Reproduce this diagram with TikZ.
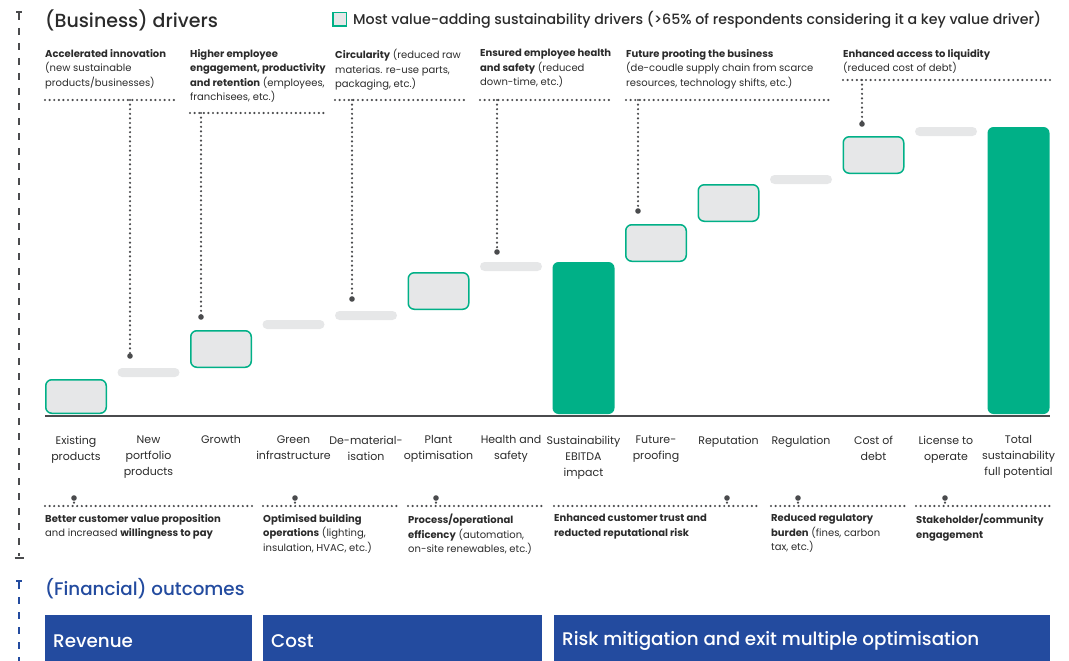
\documentclass[tikz,border=0pt]{standalone}
\usepackage{fontspec}
\setmainfont{Poppins}
\newfontfamily\headfont{Poppins Medium}
\definecolor{kgreen}{HTML}{00B087}
\definecolor{kgray}{HTML}{E6E7E8}
\definecolor{kdark}{HTML}{4A4B4D}
\definecolor{ktext}{HTML}{2B2B2B}
\definecolor{kblue}{HTML}{234B9F}
\begin{document}
\begin{tikzpicture}[x=1pt,y=-1pt,
  valbox/.style={draw=kgreen, line width=1.5pt, fill=kgray, rounded corners=6pt,
    minimum width=60.5pt, minimum height=36.5pt, inner sep=0pt},
  stepbar/.style={fill=kgray, rounded corners=4.5pt, minimum width=62pt,
    minimum height=9pt, inner sep=0pt},
  totalbar/.style={fill=kgreen, rounded corners=6pt, minimum width=62pt, inner sep=0pt},
  dotline/.style={draw=kdark, line width=2.4pt, line cap=round, dash pattern=on 0pt off 4.6pt},
  enddot/.style={fill=kdark},
  axisdash/.style={line width=1.8pt, dash pattern=on 7pt off 8pt},
  toplbl/.style={anchor=north west, align=left, inner sep=0pt, text=ktext,
    font=\fontsize{10}{14.5}\selectfont},
  catlbl/.style={anchor=north, align=center, inner sep=0pt, text=ktext,
    font=\fontsize{11}{16}\selectfont},
  outbox/.style={fill=kblue, anchor=north west, minimum height=51pt, inner sep=0pt},
  outlbl/.style={anchor=west, inner sep=0pt, text=white, font=\headfont\fontsize{18.3}{22}\selectfont},
]
\useasboundingbox (0,0) rectangle (1069,661);
\clip (0,0) rectangle (1069,661);

% ---- left axes ----
\draw[kdark, axisdash] (19,13) -- (19,556);
\draw[kdark, line width=1.5pt] (16,12) -- (22,12);
\draw[kdark, line width=1.5pt] (14.5,558) -- (23.5,558);
\draw[kblue, axisdash] (19,582) -- (19,661);
\draw[kblue, line width=1.5pt] (16,581) -- (22,581);

% ---- headings ----
\node[anchor=west, inner sep=0pt, text=ktext, font=\headfont\fontsize{19}{22}\selectfont] (hdr) at (45,20) {(Business) drivers};
\node[draw=kgreen, line width=1.5pt, fill=kgray, minimum size=13.5pt, inner sep=0pt] (legbox) at (339.5,19.5) {};
\node[anchor=west, inner sep=0pt, text=ktext, font=\headfont\fontsize{14.2}{16}\selectfont] (legtxt) at (353,19.5)
  {Most value-adding sustainability drivers (>65\% of respondents considering it a key value driver)};

% ---- waterfall ----
\node[valbox, minimum height=33.5pt] (s1) at (76,396.5) {};
\node[stepbar] (s2) at (148.5,372.5) {};
\node[valbox] (s3) at (221,349) {};
\node[stepbar] (s4) at (293.5,324.5) {};
\node[stepbar] (s5) at (366,315.5) {};
\node[valbox] (s6) at (438.5,291) {};
\node[stepbar] (s7) at (511,266.5) {};
\node[totalbar, minimum height=152pt] (s8) at (583.5,338) {};
\node[valbox] (s9) at (656,243) {};
\node[valbox] (s10) at (728.5,203) {};
\node[stepbar] (s11) at (801,179.5) {};
\node[valbox] (s12) at (873.5,155) {};
\node[stepbar] (s13) at (946,131.5) {};
\node[totalbar, minimum height=287pt] (s14) at (1018.5,270.5) {};
\draw[kdark, line width=2pt] (45,416) -- (1050,416);

% ---- driver labels (top) ----
\node[toplbl] (d1) at (45,49) {\textbf{Accelerated innovation}\\(new sustainable\\products/businesses)};
\node[toplbl] (d2) at (190,49) {\textbf{Higher employee}\\\textbf{engagement, productivity}\\\textbf{and retention} (employees,\\franchisees, etc.)};
\node[toplbl] (d3) at (335,49) {\textbf{Circularity} (reduced raw\\materias. re-use parts,\\packaging, etc.)};
\node[toplbl] (d4) at (480,49) {\textbf{Ensured employee health}\\\textbf{and safety} (reduced\\down-time, etc.)};
\node[toplbl] (d5) at (626,49) {\textbf{Future prooting the business}\\(de-coudle supply chain from scarce\\resources, technology shifts, etc.)};
\node[toplbl] (d6) at (843,49) {\textbf{Enhanced access to liquidity}\\(reduced cost of debt)};

\draw[dotline] (45,100) -- (178,100);
\draw[dotline] (190,113) -- (325,113);
\draw[dotline] (335,100) -- (467,100);
\draw[dotline] (480,100) -- (612,100);
\draw[dotline] (626,100) -- (832,100);
\draw[dotline] (843,80) -- (1050,80);

\coordinate (u1) at (130,100);  \coordinate (p1) at (130,356);
\coordinate (u2) at (201,113);  \coordinate (p2) at (201,317);
\coordinate (u3) at (352,100);  \coordinate (p3) at (352,299);
\coordinate (u4) at (497,100);  \coordinate (p4) at (497,252);
\coordinate (u5) at (638,100);  \coordinate (p5) at (638,211);
\coordinate (u6) at (862,80);   \coordinate (p6) at (862,124);
\foreach \k in {1,...,6}{
  \draw[dotline] (u\k) -- (p\k);
  \fill[enddot] (p\k) circle (2.8pt);
}

% ---- category labels ----
\node[catlbl] (c1) at (76,435.5) {Existing\\products};
\node[catlbl] (c2) at (148.5,435.5) {New\\portfolio\\products};
\node[catlbl] (c3) at (221,435.5) {Growth};
\node[catlbl] (c4) at (293.5,435.5) {Green\\infrastructure};
\node[catlbl] (c5) at (366,435.5) {De-material-\\isation};
\node[catlbl] (c6) at (438.5,435.5) {Plant\\optimisation};
\node[catlbl] (c7) at (511,435.5) {Health and\\safety};
\node[catlbl] (c8) at (583.5,435.5) {Sustainability\\EBITDA\\impact};
\node[catlbl] (c9) at (656,435.5) {Future-\\proofing};
\node[catlbl] (c10) at (728.5,435.5) {Reputation};
\node[catlbl] (c11) at (801,435.5) {Regulation};
\node[catlbl] (c12) at (873.5,435.5) {Cost of\\debt};
\node[catlbl] (c13) at (946,435.5) {License to\\operate};
\node[catlbl] (c14) at (1018.5,435.5) {Total\\sustainability\\full potential};

% ---- lever labels (bottom) ----
\draw[dotline] (45,506) -- (252,506);
\draw[dotline] (263,506) -- (397,506);
\draw[dotline] (408,506) -- (542,506);
\draw[dotline] (554,506) -- (760,506);
\draw[dotline] (771,506) -- (905,506);
\draw[dotline] (916,506) -- (1050,506);

\coordinate (q1) at (74,498);  \coordinate (w1) at (74,506);
\coordinate (q2) at (295,498); \coordinate (w2) at (295,506);
\coordinate (q3) at (436,498); \coordinate (w3) at (436,506);
\coordinate (q4) at (727,498); \coordinate (w4) at (727,506);
\coordinate (q5) at (798,498); \coordinate (w5) at (798,506);
\coordinate (q6) at (945,498); \coordinate (w6) at (945,506);
\foreach \k in {1,...,6}{
  \draw[dotline] (q\k) -- (w\k);
  \fill[enddot] (q\k) circle (2.8pt);
}

\node[toplbl] (l1) at (45,514) {\textbf{Better customer value proposition}\\and increased \textbf{willingness to pay}};
\node[toplbl] (l2) at (263,514) {\textbf{Optimised building}\\\textbf{operations} (lighting,\\insulation, HVAC, etc.)};
\node[toplbl] (l3) at (408,514) {\textbf{Process/operational}\\\textbf{efficency} (automation,\\on-site renewables, etc.)};
\node[toplbl] (l4) at (554,514) {\textbf{Enhanced customer trust and}\\\textbf{reducted reputational risk}};
\node[toplbl] (l5) at (771,514) {\textbf{Reduced regulatory}\\\textbf{burden} (fines, carbon\\tax, etc.)};
\node[toplbl] (l6) at (916,514) {\textbf{Stakeholder/community}\\\textbf{engagement}};

% ---- financial outcomes ----
\node[anchor=west, inner sep=0pt, text=kblue, font=\headfont\fontsize{18.3}{22}\selectfont] (fin) at (45,589) {(Financial) outcomes};
\node[outbox, minimum width=207pt] (o1) at (45,615) {};
\node[outbox, minimum width=279pt] (o2) at (263,615) {};
\node[outbox, minimum width=496pt] (o3) at (554,615) {};
\node[outlbl] (o1t) at (53,641) {Revenue};
\node[outlbl] (o2t) at (271,641) {Cost};
\node[outlbl] (o3t) at (562,641) {Risk mitigation and exit multiple optimisation};
\end{tikzpicture}
\end{document}
